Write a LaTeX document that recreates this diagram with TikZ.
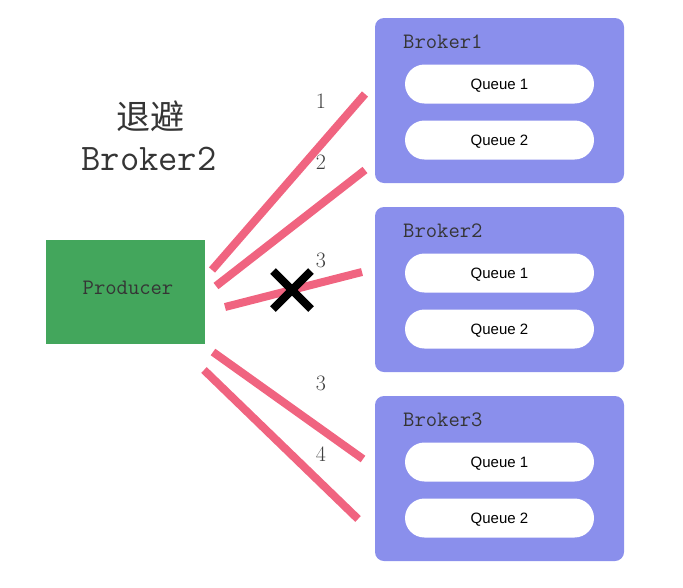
\documentclass[tikz,border=0pt]{standalone}
\usepackage{fontspec}
\usetikzlibrary{calc}
\newfontfamily\cjk{Noto Sans CJK SC}
\newfontfamily\qfont{Liberation Sans}
\definecolor{brokerblue}{HTML}{8A8FEC}
\definecolor{prodgreen}{HTML}{43A65C}
\definecolor{linkpink}{HTML}{F06480}
\definecolor{txtgray}{HTML}{353535}
\definecolor{numgray}{HTML}{404040}
\tikzset{
  broker/.style={fill=brokerblue, rounded corners=9pt, minimum width=249pt, minimum height=165pt, inner sep=0pt},
  queue/.style={fill=white, rounded corners=19.5pt, minimum width=189pt, minimum height=39pt, inner sep=0pt},
  qtext/.style={inner sep=0pt, font=\qfont\fontsize{15}{15}\selectfont},
  blabel/.style={anchor=west, inner sep=0pt, text=txtgray, font=\ttfamily\fontsize{22}{22}\selectfont},
  link/.style={draw=linkpink, line width=8pt},
  num/.style={text=numgray, font=\fontsize{22}{22}\selectfont, inner sep=0pt},
}
\begin{document}
\begin{tikzpicture}[x=1pt,y=-1pt]
\useasboundingbox (0,0) rectangle (683,587);
% producer
\node[fill=prodgreen, minimum width=159pt, minimum height=104pt, inner sep=0pt] (prod) at (125.5,292) {};
\node[inner sep=0pt, text=txtgray, font=\ttfamily\fontsize{22}{22}\selectfont] (prodt) at (128,288) {Producer};
% brokers
\foreach \i/\y in {1/100.5, 2/289.5, 3/478.5}{
  \node[broker] (b\i) at (499.5,\y) {};
  \node[blabel] (bl\i) at (403,\y-59) {Broker\i};
  \node[queue] (q\i a) at (499.5,\y-16.5) {};
  \node[qtext] (q\i at) at (499.5,\y-14.5) {Queue 1};
  \node[queue] (q\i b) at (499.5,\y+39.5) {};
  \node[qtext] (q\i bt) at (499.5,\y+41.5) {Queue 2};
}
% title
\node[text=txtgray, font=\cjk\fontsize{34}{34}\selectfont, inner sep=0pt] (t1) at (150,116) {退避};
\node[text=txtgray, font=\ttfamily\fontsize{37.5}{37.5}\selectfont, inner sep=0pt] (t2) at (149,159) {Broker2};
% link endpoints
\coordinate (s1) at (212,270); \coordinate (e1) at (365,94);
\coordinate (s2) at (216,286); \coordinate (e2) at (365,170);
\coordinate (s3) at (225,307); \coordinate (e3) at (362,272);
\coordinate (s4) at (213,352); \coordinate (e4) at (363,459);
\coordinate (s5) at (204,370); \coordinate (e5) at (358,519);
\draw[link] (s1) -- (e1);
\draw[link] (s2) -- (e2);
\draw[link] (s3) -- (e3);
\draw[link] (s4) -- (e4);
\draw[link] (s5) -- (e5);
% numbers
\node[num] (n1) at (321,101) {1};
\node[num] (n2) at (321,162) {2};
\node[num] (n3) at (321,260) {3};
\node[num] (n4) at (321,383) {3};
\node[num] (n5) at (321,454) {4};
% cross
\coordinate (xc) at (292,290);
\draw[line width=8pt, black] ($(xc)+(-19,-19)$) -- ($(xc)+(19,19)$);
\draw[line width=8pt, black] ($(xc)+(-19,19)$) -- ($(xc)+(19,-19)$);
\end{tikzpicture}
\end{document}
